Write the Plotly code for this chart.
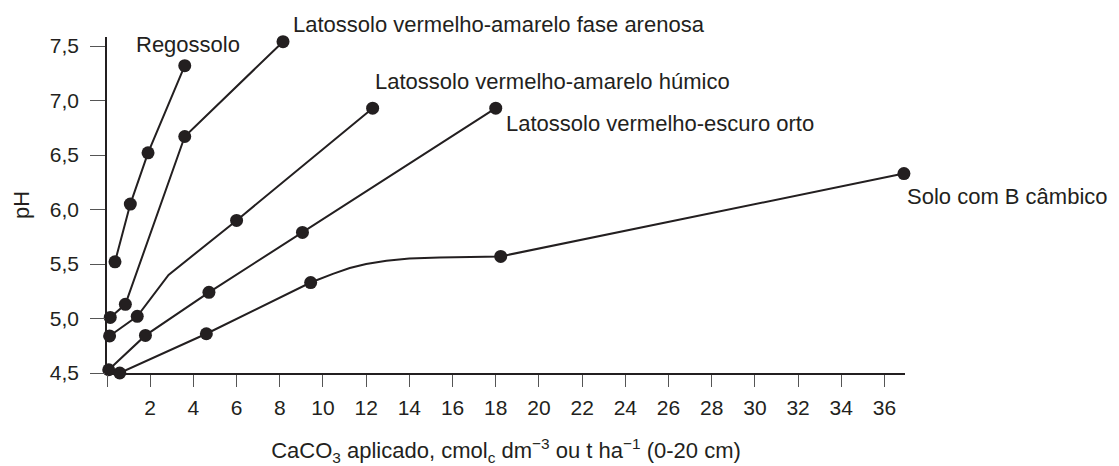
import plotly.graph_objects as go

# ---- data ----
regossolo_x = [0.37, 1.08, 1.90, 3.60]
regossolo_y = [5.52, 6.05, 6.52, 7.32]
regossolo_marked = [1, 1, 1, 1]

arenosa_x = [0.15, 0.85, 3.60, 8.15]
arenosa_y = [5.01, 5.13, 6.67, 7.54]
arenosa_marked = [1, 1, 1, 1]

humico_x = [0.12, 1.40, 2.85, 6.00, 12.30]
humico_y = [4.84, 5.02, 5.40, 5.90, 6.93]
humico_marked = [1, 1, 0, 1, 1]

escuro_x = [0.08, 1.78, 4.72, 9.05, 18.00]
escuro_y = [4.53, 4.845, 5.24, 5.79, 6.93]
escuro_marked = [1, 1, 1, 1, 1]

cambico_x = [0.59, 4.60, 9.43, 10.46, 11.24, 12.00, 12.94, 14.00, 15.40, 16.93, 18.23, 36.90]
cambico_y = [4.50, 4.86, 5.33, 5.41, 5.463, 5.50, 5.53, 5.55, 5.56, 5.565, 5.57, 6.33]
cambico_marked = [1, 1, 1, 0, 0, 0, 0, 0, 0, 0, 1, 1]

series_names = [
    "Regossolo",
    "Latossolo vermelho-amarelo fase arenosa",
    "Latossolo vermelho-amarelo húmico",
    "Latossolo vermelho-escuro orto",
    "Solo com B câmbico",
]

x_tick_vals = list(range(0, 37, 2))
x_tick_labels = [""] + [str(v) for v in range(2, 37, 2)]
y_tick_vals = [4.5, 5.0, 5.5, 6.0, 6.5, 7.0, 7.5]
y_tick_labels = ["4,5", "5,0", "5,5", "6,0", "6,5", "7,0", "7,5"]

# ---- styling / layout ----
INK = "#231f20"
FONT = "Liberation Sans, Arial, sans-serif"
PAGE = 8                      # default body margin of the html page
W, H = 1119 - PAGE, 466 - PAGE
ML, MT, MB = 107 - PAGE, 37 - PAGE, 93
PW = 798
MR = W - ML - PW
PH = H - MT - MB

# label anchors in screen pixels (left edge, vertical middle)
label_px = [
    (137, 44),
    (294, 25),
    (376, 81),
    (507, 123),
    (908, 196),
]
label_shift = -3

all_series = [
    (regossolo_x, regossolo_y, regossolo_marked),
    (arenosa_x, arenosa_y, arenosa_marked),
    (humico_x, humico_y, humico_marked),
    (escuro_x, escuro_y, escuro_marked),
    (cambico_x, cambico_y, cambico_marked),
]

fig = go.Figure()
for name, (xs, ys, mk) in zip(series_names, all_series):
    fig.add_trace(go.Scatter(
        x=xs, y=ys, name=name, mode="lines+markers",
        line=dict(color=INK, width=2),
        marker=dict(color=INK, size=[13 if m else 0 for m in mk], opacity=1,
                    line=dict(width=0)),
        cliponaxis=False, showlegend=False, hoverinfo="skip",
    ))

for name, (px, py) in zip(series_names, label_px):
    fx = (px - PAGE - ML) / PW
    fy = (H - MB - (py - PAGE)) / PH
    fig.add_annotation(x=fx, y=fy, xref="paper", yref="paper", text=name,
                       showarrow=False, xanchor="left", yanchor="middle",
                       xshift=label_shift,
                       font=dict(family=FONT, size=22, color=INK))

fig.update_layout(
    width=W, height=H,
    margin=dict(l=ML, r=MR, t=MT, b=MB, autoexpand=False),
    paper_bgcolor="white", plot_bgcolor="white",
    font=dict(family=FONT, color=INK),
    showlegend=False,
)
fig.update_xaxes(
    range=[0, 36.95], showgrid=False, zeroline=False, automargin=False,
    showline=True, linecolor=INK, linewidth=1.5,
    ticks="outside", ticklen=12, tickwidth=1.2, tickcolor="#555",
    tickvals=x_tick_vals, ticktext=x_tick_labels,
    tickfont=dict(family=FONT, size=21, color=INK),
    ticklabelstandoff=3,
    title=dict(text="CaCO<sub>3</sub> aplicado, cmol<sub>c</sub> dm<sup>\u22123</sup> ou t ha<sup>\u22121</sup> (0-20 cm)",
               font=dict(family=FONT, size=22, color=INK), standoff=25),
)
fig.update_yaxes(
    range=[4.5, 7.583], showgrid=False, zeroline=False, automargin=False,
    showline=True, linecolor=INK, linewidth=1.5,
    ticks="outside", ticklen=15, tickwidth=1.2, tickcolor="#555",
    tickvals=y_tick_vals, ticktext=y_tick_labels,
    tickfont=dict(family=FONT, size=21, color=INK),
    ticklabelstandoff=7,
    title=dict(text="pH", font=dict(family=FONT, size=22, color=INK), standoff=14),
)

fig.write_html("out.html")
